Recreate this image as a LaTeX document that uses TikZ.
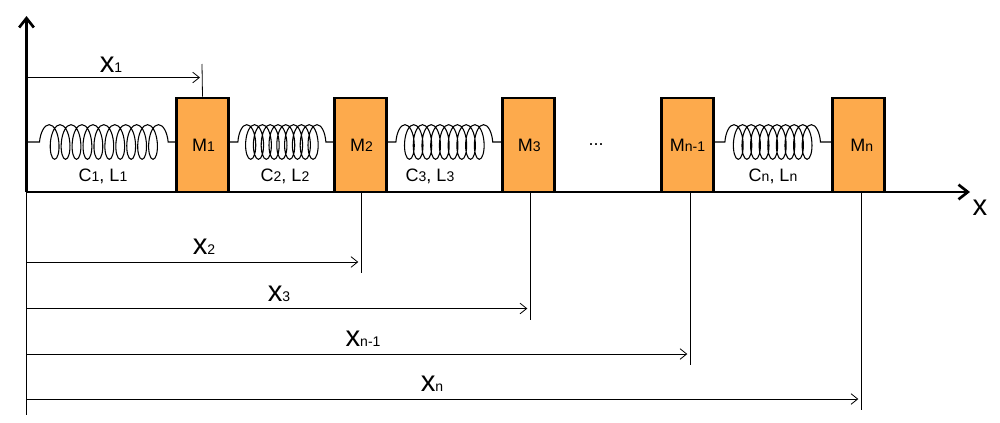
\documentclass[tikz,border=0pt]{standalone}
\usepackage{fontspec}
\setmainfont{Liberation Sans}
\usetikzlibrary{arrows.meta,decorations.pathmorphing}
\definecolor{massfill}{RGB}{253,170,76}
\newcommand{\idx}[1]{{\fontsize{10.5}{12}\selectfont #1}}
\newcommand{\distlab}[2]{{\fontsize{22}{24}\selectfont #1}\idx{#2}}
\tikzset{
  axis/.style = {line width=2pt, -{Straight Barb[length=7pt,width=11pt]}},
  mass/.style = {draw, fill=massfill, line width=2.1pt, minimum width=39pt,
    minimum height=70.5pt, inner sep=0pt, font=\fontsize{13.5}{16}\selectfont},
  measure/.style = {line width=0.6pt, -{Straight Barb[length=5pt,width=8pt]}},
  tick/.style = {line width=0.6pt},
  spring/.style n args = {3}{line width=0.8pt, decorate, decoration={coil, amplitude=13pt,
    segment length=#1, aspect=0.4, pre length=#2, post length=#3}},
  lbl/.style = {inner sep=0pt, font=\fontsize{13.5}{16}\selectfont},
}
\begin{document}
\begin{tikzpicture}[x=0.75pt,y=-0.75pt]
  \useasboundingbox (0,0) rectangle (1000,422);
  % origin and axes
  \coordinate (o) at (26.5,192);
  \coordinate (top) at (26.5,16);
  \coordinate (right) at (970,192);
  \coordinate (bot) at (26.5,415);
  \coordinate (w0) at (26.5,142);
  \draw[tick] (o) -- (bot);
  % masses
  \foreach \name/\x/\txt/\off in {m1/202.5/1/1.5pt, m2/360.5/2/1.5pt, m3/528.5/3/1pt, m4/687.5/n-1/0pt, m5/858.5/n/5pt} {
    \node[mass] (\name) at (\x,145) {\hspace{\off}M\idx{\txt}};
  };
  \draw[axis] (o) -- (top);
  \draw[axis] (o) -- (right);
  \node[inner sep=0pt,font=\fontsize{22}{24}\selectfont] (xlab) at (980,208) {x};
  % springs
  \draw[spring={8.2pt}{9.75pt}{3pt}] (w0) -- (m1.west |- w0);
  \draw[spring={5.85pt}{6pt}{1.5pt}] (m1.east |- w0) -- (m2.west |- w0);
  \draw[spring={6.55pt}{6pt}{1.5pt}] (m2.east |- w0) -- (m3.west |- w0);
  \draw[spring={6.45pt}{7.5pt}{3pt}] (m4.east |- w0) -- (m5.west |- w0);
  \foreach \name/\x/\txt/\tx in {c1/103/1/1, c2/285/2/2, c3/430/3/3, c4/773/n/n} {
    \node[lbl] (\name) at (\x,176) {C\idx{\txt}, L\idx{\tx}};
  };
  \node[lbl] (dots) at (596,145) {...};
  % first distance, above the axis
  \coordinate (t1) at (202,64);
  \coordinate (h1) at (26.5,77.5);
  \coordinate (e1) at (200,77.5);
  \draw[tick] (m1.north) -- (t1);
  \draw[measure] (h1) -- (e1);
  \node[inner sep=0pt] (x1) at (111,65) {\distlab{x}{1}};
  % the others, below it
  \foreach \i/\m/\y/\tx/\lx/\txt in {2/m2/262/361/204/2, 3/m3/308.5/530/279/3, 4/m4/354/690/363/n-1, 5/m5/399/861/432/n} {
    \coordinate (h\i) at (26.5,\y);
    \coordinate (e\i) at (\tx-2.7,\y);
    \coordinate (t\i) at (\tx,\y+11);
    \draw[tick] (t\i |- \m.south) -- (t\i);
    \draw[measure] (h\i) -- (e\i);
    \node[inner sep=0pt] (x\i) at (\lx,\y-15) {\distlab{x}{\txt}};
  };
\end{tikzpicture}
\end{document}
